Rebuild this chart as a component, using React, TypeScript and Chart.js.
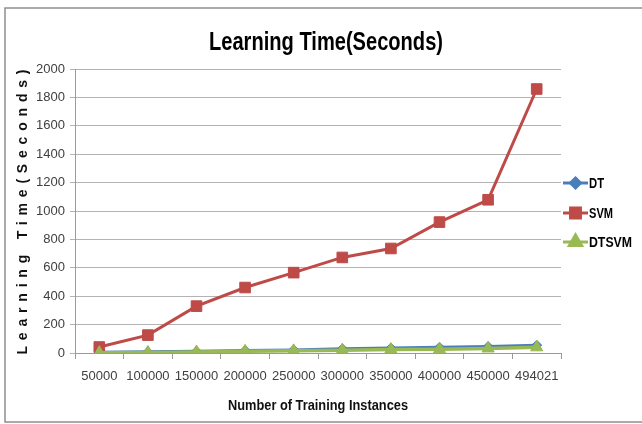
import React, { useEffect, useRef } from "react";
import { Chart, registerables } from "chart.js";

Chart.register(...registerables);

const categories = ["50000", "100000", "150000", "200000", "250000", "300000", "350000", "400000", "450000", "494021"];
const dtValues = [5, 8, 12, 18, 22, 30, 35, 40, 45, 55];
const svmValues = [42, 126, 330, 461, 566, 673, 736, 922, 1079, 1859];
const dtsvmValues = [2, 4, 7, 12, 15, 20, 24, 27, 32, 40];

const chartTitle = "Learning Time(Seconds)";
const yAxisTitle = "Learning Time(Seconds)";
const xAxisTitle = "Number of Training Instances";

const BLUE = "#4a7ebb";
const RED = "#be4b48";
const GREEN = "#98b954";
const FONT = "'Liberation Sans Narrow', 'Arial Narrow', 'Liberation Sans', Arial, sans-serif";

const seriesLegend = [
  { label: "DT", color: BLUE, style: "rectRot", radius: 5 },
  { label: "SVM", color: RED, style: "rect", radius: 7 },
  { label: "DTSVM", color: GREEN, style: "triangle", radius: 7 },
];

// draw text squeezed horizontally to a target width (emulates a condensed face)
function fitText(ctx: CanvasRenderingContext2D, text: string, cx: number, cy: number, targetW: number, align: "center" | "left") {
  const w = ctx.measureText(text).width;
  const k = Math.min(1, targetW / w);
  ctx.save();
  ctx.translate(cx, cy);
  ctx.scale(k, 1);
  ctx.textAlign = align;
  ctx.fillText(text, 0, 0);
  ctx.restore();
}

function drawMarker(ctx: CanvasRenderingContext2D, style: string, r: number, x: number, y: number, color: string) {
  ctx.save();
  ctx.fillStyle = color;
  ctx.strokeStyle = color;
  ctx.beginPath();
  if (style === "rect") {
    const s = Math.SQRT1_2 * r;
    ctx.rect(x - s, y - s, 2 * s, 2 * s);
  } else if (style === "rectRot") {
    ctx.moveTo(x, y - r);
    ctx.lineTo(x + r, y);
    ctx.lineTo(x, y + r);
    ctx.lineTo(x - r, y);
    ctx.closePath();
  } else {
    ctx.moveTo(x, y - r);
    ctx.lineTo(x + r * 0.87, y + r * 0.5);
    ctx.lineTo(x - r * 0.87, y + r * 0.5);
    ctx.closePath();
  }
  ctx.fill();
  ctx.stroke();
  ctx.restore();
}

const decorPlugin = {
  id: "decor",
  afterDraw(chart: any) {
    const ctx = chart.ctx as CanvasRenderingContext2D;
    const area = chart.chartArea;
    ctx.save();
    // outer frame
    ctx.strokeStyle = "#8f8f8f";
    ctx.lineWidth = 1.5;
    ctx.strokeRect(5, 8, 650, 414);

    // title
    ctx.fillStyle = "#000";
    ctx.textBaseline = "middle";
    ctx.font = `bold 25px ${FONT}`;
    fitText(ctx, chartTitle, 326, 43, 234, "center");

    // x title
    ctx.fillStyle = "#111";
    ctx.font = `bold 15px ${FONT}`;
    fitText(ctx, xAxisTitle, 318, 406, 180, "center");

    // y title with letter spacing
    ctx.save();
    ctx.translate(23, (area.top + area.bottom) / 2 + 1);
    ctx.rotate(-Math.PI / 2);
    ctx.font = `bold 14px ${FONT}`;
    const base = ctx.measureText(yAxisTitle).width;
    const n = yAxisTitle.length;
    const target = 285;
    const sp = Math.max(0, (target - base) / (n - 1));
    (ctx as any).letterSpacing = `${sp}px`;
    ctx.textAlign = "left";
    ctx.fillText(yAxisTitle, -target / 2, 0);
    ctx.restore();

    // legend
    const ys = [183, 213, 242];
    const widths = [15, 24, 43];
    seriesLegend.forEach((s, i) => {
      const y = ys[i];
      ctx.strokeStyle = s.color;
      ctx.lineWidth = 3;
      ctx.beginPath();
      ctx.moveTo(563, y);
      ctx.lineTo(588, y);
      ctx.stroke();
      drawMarker(ctx, s.style, s.radius, 575.5, y, s.color);
      ctx.fillStyle = "#000";
      ctx.font = `bold 14px ${FONT}`;
      ctx.textBaseline = "middle";
      fitText(ctx, s.label, 589, y + 1, widths[i], "left");
    });
    ctx.restore();
  },
};

export default function App() {
  const ref = useRef<HTMLCanvasElement | null>(null);
  useEffect(() => {
    document.body.style.margin = "0";
    const canvas = ref.current!;
    const chart = new Chart(canvas, {
      type: "line",
      data: {
        labels: categories,
        datasets: [
          {
            label: "DT",
            data: dtValues,
            borderColor: BLUE,
            backgroundColor: BLUE,
            borderWidth: 3,
            pointStyle: "rectRot",
            pointRadius: 5,
            pointBorderWidth: 1,
            tension: 0,
            order: 2,
          },
          {
            label: "SVM",
            data: svmValues,
            borderColor: RED,
            backgroundColor: RED,
            borderWidth: 3,
            pointStyle: "rect",
            pointRadius: 7.5,
            pointBorderWidth: 1,
            tension: 0,
            order: 1,
          },
          {
            label: "DTSVM",
            data: dtsvmValues,
            borderColor: GREEN,
            backgroundColor: GREEN,
            borderWidth: 3.5,
            pointStyle: "triangle",
            pointRadius: 7,
            pointBorderWidth: 1,
            tension: 0,
            order: 0,
          },
        ],
      },
      options: {
        animation: false,
        responsive: false,
        maintainAspectRatio: false,
        layout: { padding: { left: 0, right: 81, top: 69, bottom: 31 } },
        plugins: {
          legend: { display: false },
          title: { display: false },
          tooltip: { enabled: false },
        },
        scales: {
          x: {
            type: "category",
            offset: true,
            afterFit: (s: any) => { s.height = 40; },
            grid: {
              drawOnChartArea: false,
              drawTicks: true,
              tickLength: 6,
              offset: true,
              color: "#9a9a9a",
            },
            border: { color: "#9a9a9a", width: 1 },
            ticks: {
              color: "#404040",
              font: { family: FONT, size: 13 },
              padding: 10,
              maxRotation: 0,
              autoSkip: false,
            },
          },
          y: {
            min: 0,
            max: 2000,
            afterFit: (s: any) => { s.width = 75; },
            grid: {
              color: "#b3b3b3",
              drawTicks: true,
              tickLength: 5,
            },
            border: { color: "#9a9a9a", width: 1 },
            ticks: {
              stepSize: 200,
              color: "#404040",
              font: { family: FONT, size: 13 },
              padding: 5,
              callback: (v: any) => String(v),
            },
          },
        },
      },
      plugins: [decorPlugin],
    } as any);
    return () => chart.destroy();
  }, []);
  return <canvas ref={ref} width={642} height={424} style={{ display: "block", width: 642, height: 424 }} />;
}
